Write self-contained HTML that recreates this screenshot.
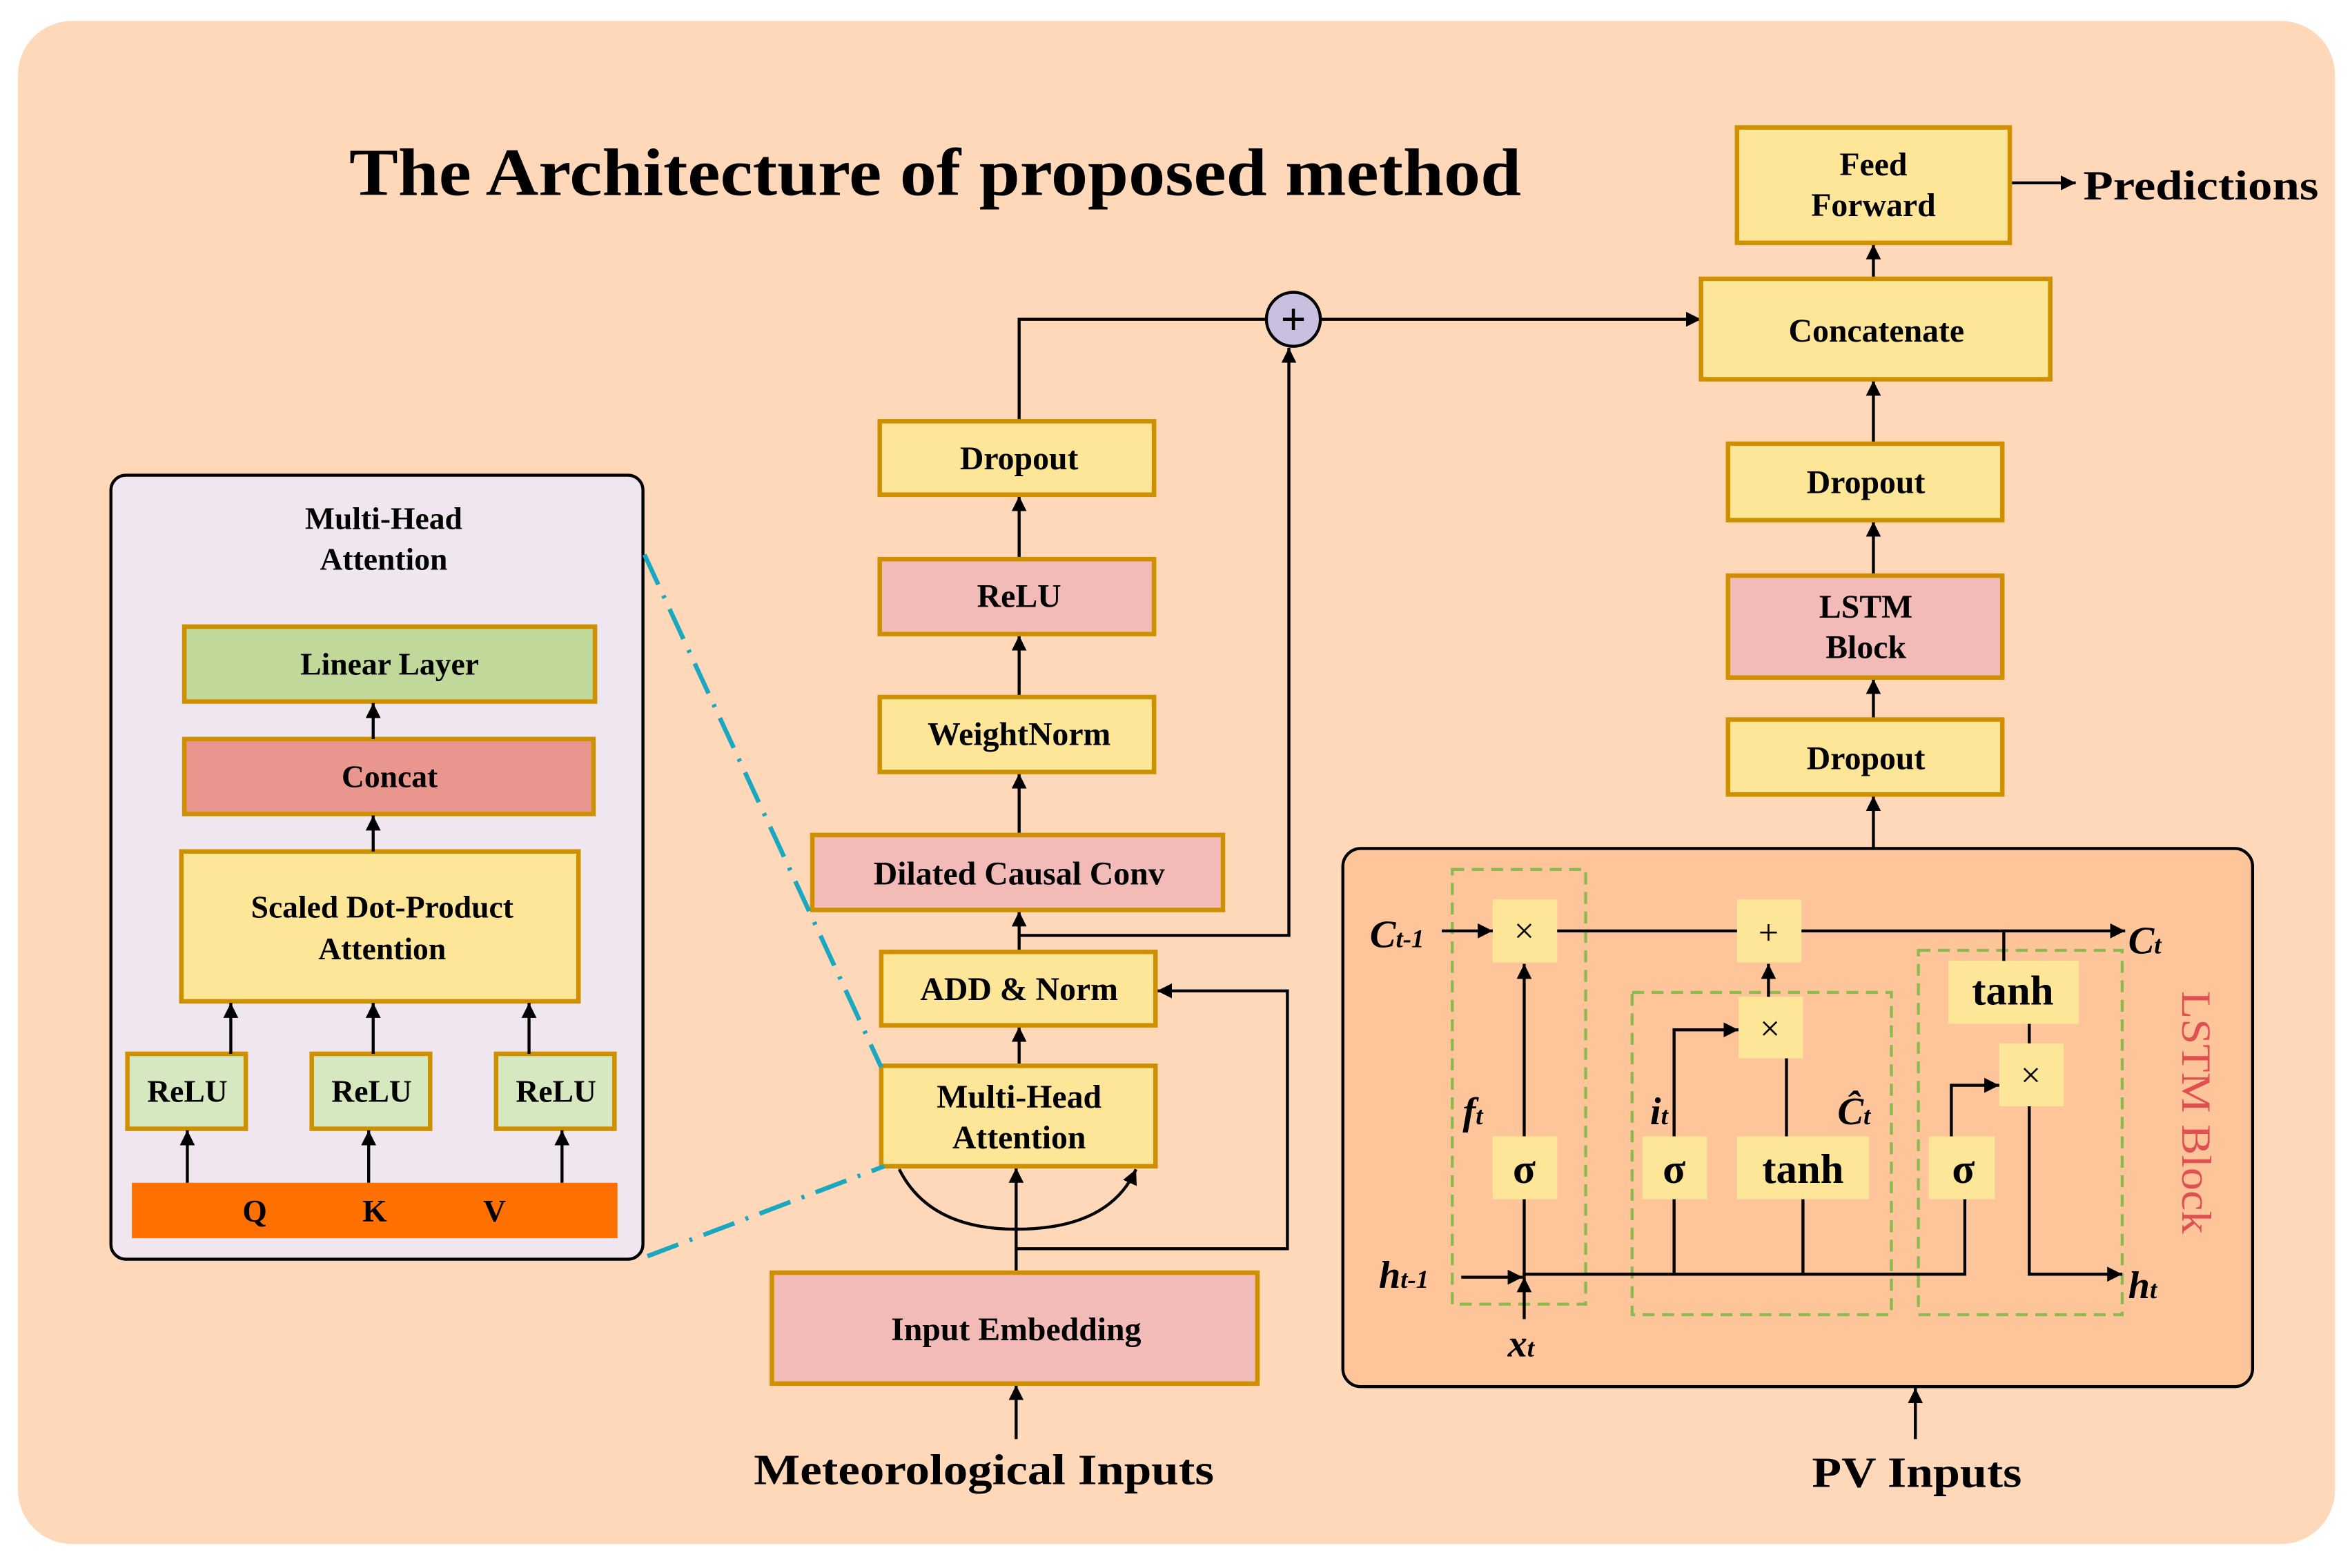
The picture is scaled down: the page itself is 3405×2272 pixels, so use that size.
<!DOCTYPE html>
<html><head><meta charset="utf-8"><style>
html,body{margin:0;padding:0;background:#fff;}
svg{display:block;}
text{font-family:"Liberation Serif",serif;font-weight:bold;fill:#000;}
</style></head><body>
<svg width="3405" height="2272" viewBox="0 0 1568 1046" preserveAspectRatio="none" xmlns="http://www.w3.org/2000/svg">
<defs>
<marker id="b" viewBox="0 0 10 10" refX="10" refY="5" markerWidth="10" markerHeight="10" orient="auto" markerUnits="userSpaceOnUse"><path d="M0,0L10,5L0,10z" fill="#000"/></marker>
</defs>
<rect x="0" y="0" width="1568" height="1046" fill="#fff"/>
<rect x="12" y="14" width="1546" height="1016" rx="36" fill="#fed8b9"/>
<text x="233" y="130" font-size="45" textLength="782" lengthAdjust="spacingAndGlyphs">The Architecture of proposed method</text>

<g stroke="#000" stroke-width="2" fill="none">
<line x1="1341" y1="122" x2="1385" y2="122" marker-end="url(#b)"/>
<line x1="1250" y1="186" x2="1250" y2="163" marker-end="url(#b)"/>
<line x1="1250" y1="296" x2="1250" y2="254" marker-end="url(#b)"/>
<line x1="1250" y1="384" x2="1250" y2="348" marker-end="url(#b)"/>
<line x1="1250" y1="480" x2="1250" y2="453" marker-end="url(#b)"/>
<line x1="1250" y1="566" x2="1250" y2="531" marker-end="url(#b)"/>
<line x1="1278" y1="960" x2="1278" y2="926" marker-end="url(#b)"/>
<polyline points="680,281 680,213 845,213"/>
<line x1="881" y1="213" x2="1135" y2="213" marker-end="url(#b)"/>
<polyline points="680,624 860,624 860,232" marker-end="url(#b)"/>
<line x1="680" y1="373" x2="680" y2="331" marker-end="url(#b)"/>
<line x1="680" y1="465" x2="680" y2="424" marker-end="url(#b)"/>
<line x1="680" y1="557" x2="680" y2="516" marker-end="url(#b)"/>
<line x1="680" y1="635" x2="680" y2="608" marker-end="url(#b)"/>
<line x1="680" y1="711" x2="680" y2="685" marker-end="url(#b)"/>
<polyline points="678,833 859,833 859,661 772,661" marker-end="url(#b)"/>
<line x1="678" y1="849" x2="678" y2="779" marker-end="url(#b)"/>
<path d="M600,780 Q620,820 678,820" marker-start="url(#b)"/>
<path d="M678,820 Q740,820 758,780" marker-end="url(#b)"/>
<line x1="678" y1="960" x2="678" y2="924" marker-end="url(#b)"/>
</g>

<g stroke="#cf9000" stroke-width="3">
<rect x="1159" y="85" width="182" height="77" fill="#fee699"/>
<rect x="1135" y="186" width="233" height="67" fill="#fee699"/>
<rect x="1153" y="296" width="183" height="51" fill="#fee699"/>
<rect x="1153" y="384" width="183" height="68" fill="#f2bbb7"/>
<rect x="1153" y="480" width="183" height="50" fill="#fee699"/>
<rect x="587" y="281" width="183" height="49" fill="#fee699"/>
<rect x="587" y="373" width="183" height="50" fill="#f2bbb7"/>
<rect x="587" y="465" width="183" height="50" fill="#fee699"/>
<rect x="542" y="557" width="274" height="50" fill="#f2bbb7"/>
<rect x="588" y="635" width="183" height="49" fill="#fee699"/>
<rect x="588" y="711" width="183" height="67" fill="#fee699"/>
<rect x="515" y="849" width="324" height="74" fill="#f2bbb7"/>
</g>
<circle cx="863" cy="213" r="18" fill="#c9c0e0" stroke="#000" stroke-width="2"/>
<text x="863" y="223" font-size="30" text-anchor="middle">+</text>

<g font-size="22" text-anchor="middle">
<text x="1250" y="117">Feed</text><text x="1250" y="144">Forward</text>
<text x="1252" y="228">Concatenate</text>
<text x="1245" y="329">Dropout</text>
<text x="1245" y="412">LSTM</text><text x="1245" y="439">Block</text>
<text x="1245" y="513">Dropout</text>
<text x="680" y="313">Dropout</text>
<text x="680" y="405">ReLU</text>
<text x="680" y="497">WeightNorm</text>
<text x="680" y="590">Dilated Causal Conv</text>
<text x="680" y="667">ADD &amp; Norm</text>
<text x="680" y="739">Multi-Head</text><text x="680" y="766">Attention</text>
<text x="678" y="894">Input Embedding</text>
</g>
<text x="1390" y="133" font-size="28" textLength="157" lengthAdjust="spacingAndGlyphs">Predictions</text>
<text x="503" y="990" font-size="29" textLength="307" lengthAdjust="spacingAndGlyphs">Meteorological Inputs</text>
<text x="1209" y="992" font-size="29" textLength="140" lengthAdjust="spacingAndGlyphs">PV Inputs</text>

<rect x="74" y="317" width="355" height="523" rx="10" fill="#efe6ef" stroke="#000" stroke-width="2"/>
<g font-size="21" text-anchor="middle">
<text x="256" y="353">Multi-Head</text><text x="256" y="380">Attention</text>
</g>
<g stroke="#cf9000" stroke-width="3">
<rect x="123" y="418" width="274" height="50" fill="#c0d89a"/>
<rect x="123" y="493" width="273" height="50" fill="#e9968e"/>
<rect x="121" y="568" width="265" height="100" fill="#fee699"/>
<rect x="85" y="703" width="79" height="50" fill="#d5e8c0"/>
<rect x="208" y="703" width="79" height="50" fill="#d5e8c0"/>
<rect x="331" y="703" width="79" height="50" fill="#d5e8c0"/>
</g>
<rect x="88" y="789" width="324" height="37" fill="#ff7000"/>
<g stroke="#000" stroke-width="2" fill="none">
<line x1="249" y1="493" x2="249" y2="469" marker-end="url(#b)"/>
<line x1="249" y1="568" x2="249" y2="544" marker-end="url(#b)"/>
<line x1="154" y1="703" x2="154" y2="669" marker-end="url(#b)"/>
<line x1="249" y1="703" x2="249" y2="669" marker-end="url(#b)"/>
<line x1="353" y1="703" x2="353" y2="669" marker-end="url(#b)"/>
<line x1="125" y1="789" x2="125" y2="754" marker-end="url(#b)"/>
<line x1="246" y1="789" x2="246" y2="754" marker-end="url(#b)"/>
<line x1="375" y1="789" x2="375" y2="754" marker-end="url(#b)"/>
</g>
<g font-size="21" text-anchor="middle">
<text x="260" y="450">Linear Layer</text>
<text x="260" y="525">Concat</text>
<text x="255" y="612">Scaled Dot-Product</text><text x="255" y="640">Attention</text>
<text x="125" y="735">ReLU</text><text x="248" y="735">ReLU</text><text x="371" y="735">ReLU</text>
<text x="170" y="815">Q</text><text x="250" y="815">K</text><text x="330" y="815">V</text>
</g>
<g stroke="#1aa7c0" stroke-width="3" stroke-dasharray="22,8,2,8" fill="none">
<line x1="430" y1="370" x2="588" y2="712"/>
<line x1="432" y1="838" x2="590" y2="778"/>
</g>

<rect x="896" y="566" width="607" height="359" rx="12" fill="#fec59a" stroke="#000" stroke-width="2"/>
<g fill="none" stroke="#8dba4f" stroke-width="2" stroke-dasharray="8,5">
<rect x="969" y="580" width="89" height="290"/>
<rect x="1089" y="662" width="173" height="215"/>
<rect x="1280" y="634" width="136" height="243"/>
</g>
<g fill="#fee699">
<rect x="996" y="600" width="43" height="42"/>
<rect x="1159" y="600" width="43" height="42"/>
<rect x="996" y="758" width="43" height="42"/>
<rect x="1160" y="665" width="43" height="41"/>
<rect x="1096" y="758" width="43" height="42"/>
<rect x="1159" y="758" width="88" height="42"/>
<rect x="1300" y="641" width="87" height="42"/>
<rect x="1334" y="696" width="43" height="42"/>
<rect x="1287" y="758" width="44" height="42"/>
</g>
<g stroke="#000" stroke-width="2" fill="none">
<line x1="962" y1="621" x2="996" y2="621" marker-end="url(#b)"/>
<line x1="1039" y1="621" x2="1159" y2="621"/>
<line x1="1202" y1="621" x2="1418" y2="621" marker-end="url(#b)"/>
<line x1="975" y1="852" x2="1016" y2="852" marker-end="url(#b)"/>
<polyline points="1016,850 1311,850 1311,800"/>
<line x1="1017" y1="880" x2="1017" y2="852" marker-end="url(#b)"/>
<line x1="1017" y1="852" x2="1017" y2="800"/>
<line x1="1017" y1="758" x2="1017" y2="643" marker-end="url(#b)"/>
<line x1="1117" y1="850" x2="1117" y2="800"/>
<line x1="1203" y1="850" x2="1203" y2="800"/>
<polyline points="1117,758 1117,687 1160,687" marker-end="url(#b)"/>
<line x1="1192" y1="758" x2="1192" y2="706"/>
<line x1="1180" y1="665" x2="1180" y2="643" marker-end="url(#b)"/>
<line x1="1337" y1="621" x2="1337" y2="641"/>
<line x1="1354" y1="683" x2="1354" y2="696"/>
<polyline points="1302,758 1302,724 1334,724" marker-end="url(#b)"/>
<polyline points="1354,738 1354,850 1416,850" marker-end="url(#b)"/>
</g>
<g font-size="24" text-anchor="middle">
<text x="1017" y="629" style="font-weight:normal">×</text>
<text x="1180" y="630" style="font-weight:normal">+</text>
<text x="1181" y="694" style="font-weight:normal">×</text>
<text x="1355" y="725" style="font-weight:normal">×</text>
</g>
<g font-size="28" text-anchor="middle">
<text x="1017" y="789">σ</text>
<text x="1117" y="789">σ</text>
<text x="1203" y="789">tanh</text>
<text x="1343" y="670">tanh</text>
<text x="1310" y="789">σ</text>
</g>
<g font-size="26" font-style="italic">
<text x="914" y="632">C<tspan font-size="17">t-1</tspan></text>
<text x="1420" y="636">C<tspan font-size="17">t</tspan></text>
<text x="920" y="859">h<tspan font-size="17">t-1</tspan></text>
<text x="1420" y="866">h<tspan font-size="17">t</tspan></text>
<text x="1006" y="905">x<tspan font-size="17">t</tspan></text>
<text x="976" y="750">f<tspan font-size="17">t</tspan></text>
<text x="1101" y="750">i<tspan font-size="17">t</tspan></text>
<text x="1226" y="750">Ĉ<tspan font-size="17">t</tspan></text>
</g>
<text x="1456" y="742" font-size="28" text-anchor="middle" transform="rotate(90 1456 742)" textLength="162" lengthAdjust="spacingAndGlyphs" style="font-weight:normal;fill:#e05050">LSTM Block</text>
</svg>
</body></html>
